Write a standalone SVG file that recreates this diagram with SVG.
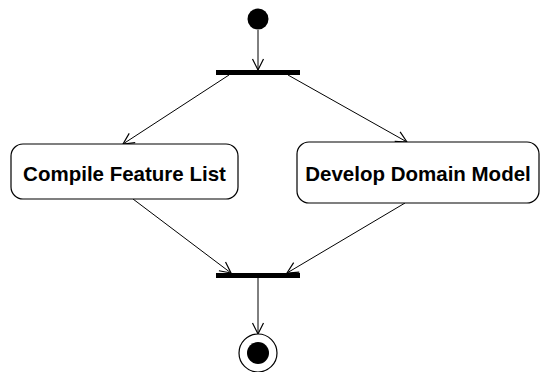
<svg xmlns="http://www.w3.org/2000/svg" width="540" height="372" viewBox="0 0 540 372">
<style>
.bg{fill:#fff}
.act{fill:#fff;stroke:#000;stroke-width:1.2}
.lbl{font-family:"Liberation Sans",Arial,sans-serif;font-weight:bold;font-size:20.5px;fill:#000;text-anchor:middle}
.bar{fill:#000}
.edge{stroke:#000;stroke-width:1;fill:none}
</style>
<defs>
<marker id="open" markerUnits="userSpaceOnUse" markerWidth="14" markerHeight="14" viewBox="0 0 14 14" refX="12" refY="7" orient="auto">
<path d="M1,1.5 L12,7 L1,12.5" fill="none" stroke="#000" stroke-width="1.2"/>
</marker>
</defs>
<rect class="bg" x="0" y="0" width="540" height="372"/>
<g id="connectors">
<line class="edge" x1="258" y1="30" x2="258" y2="70" marker-end="url(#open)"/>
<line class="edge" x1="229" y1="75" x2="123" y2="144" marker-end="url(#open)"/>
<line class="edge" x1="288" y1="75" x2="407" y2="142" marker-end="url(#open)"/>
<line class="edge" x1="133" y1="199" x2="231" y2="273" marker-end="url(#open)"/>
<line class="edge" x1="405" y1="203" x2="287" y2="273" marker-end="url(#open)"/>
<line class="edge" x1="258" y1="278" x2="258" y2="334" marker-end="url(#open)"/>
</g>
<g id="start">
<circle cx="258" cy="19" r="10.5" fill="#000"/>
</g>
<g id="fork">
<rect class="bar" x="216" y="70" width="84" height="5"/>
</g>
<g id="compile">
<rect class="act" x="11" y="144" width="227" height="55" rx="12" ry="12"/>
<text class="lbl" x="124.5" y="180.5">Compile Feature List</text>
</g>
<g id="develop">
<rect class="act" x="297" y="142" width="242" height="61" rx="12" ry="12"/>
<text class="lbl" x="418" y="181">Develop Domain Model</text>
</g>
<g id="join">
<rect class="bar" x="216" y="273" width="84" height="5"/>
</g>
<g id="end">
<circle cx="258" cy="353" r="19" fill="#fff" stroke="#000" stroke-width="1.2"/>
<circle cx="258" cy="353" r="11" fill="#000"/>
</g>
</svg>
